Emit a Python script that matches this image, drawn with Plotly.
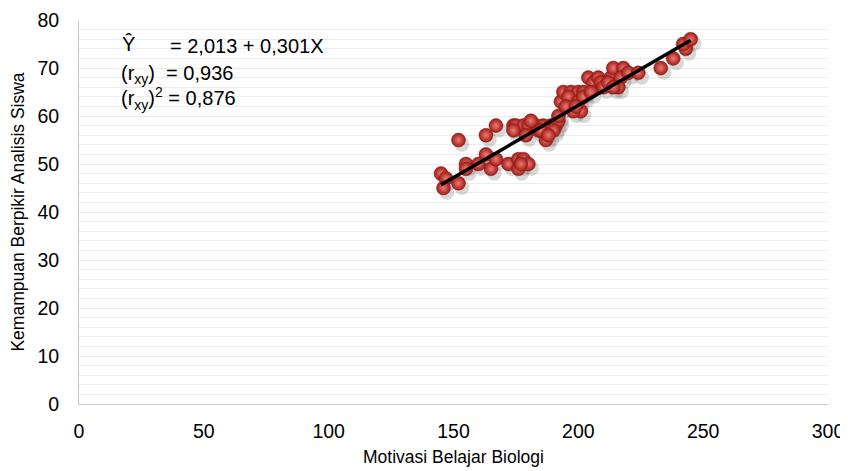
import plotly.graph_objects as go

# Data
motivasi = [145, 147, 146, 152, 152, 155, 155, 160, 163, 163, 165, 167, 167, 172, 174,
            176, 176, 178, 180, 175, 178, 180, 183, 186, 174, 179, 184, 187, 189, 191,
            192, 192, 193, 194, 197, 200, 202, 196, 200, 201, 202, 198, 204, 206, 208,
            209, 213, 214, 218, 217, 216, 220, 224, 233, 238, 243, 242, 245, 181, 185,
            190, 195, 205, 210, 212, 177, 188, 199, 214]
kemampuan = [48, 47, 45, 46, 55, 50, 49, 50, 52, 56, 49, 51, 58, 50, 58,
             51, 49, 51, 50, 58, 58, 58, 58, 58, 57, 56, 57, 55, 58, 58,
             59, 60, 63, 65, 65, 65, 65, 64, 63, 61, 64, 61, 68, 67, 68,
             67, 68, 70, 70, 68, 66, 69, 69, 70, 72, 74, 75, 76, 59, 57,
             57, 62, 65, 66, 67, 50, 56, 62, 66]

intercept = 2.013
slope = 0.301

x_ticks = [0, 50, 100, 150, 200, 250, 300]
y_ticks = [0, 10, 20, 30, 40, 50, 60, 70, 80]

xmin, xmax = min(motivasi), max(motivasi)
line_x = [xmin, xmax]
line_y = [intercept + slope * v for v in line_x]

font = "Liberation Sans, Arial, sans-serif"

fig = go.Figure()
# soft shadow
fig.add_trace(go.Scatter(
    x=[v + 1.3 for v in motivasi], y=[v - 0.9 for v in kemampuan], mode="markers",
    marker=dict(size=15, color="rgba(60,60,60,0.2)", line=dict(width=0)),
    hoverinfo="skip", showlegend=False))
fig.add_trace(go.Scatter(
    x=motivasi, y=kemampuan, mode="markers",
    marker=dict(size=14, color="#9c1d18",
                gradient=dict(type="radial", color="#ef7a70"),
                line=dict(width=0.5, color="#8e1712")),
    showlegend=False))
fig.add_trace(go.Scatter(
    x=line_x, y=line_y, mode="lines",
    line=dict(color="black", width=3.5), showlegend=False))

ann_font = dict(family=font, size=20, color="#000")
# plot area in page pixels: x 79..828, y 20..404
def px_x(p):
    return (p - 79) / 749
def px_y(p):
    return (404 - p) / 384

fig.add_annotation(x=px_x(120), y=px_y(44), xref="paper", yref="paper", text="Ŷ",
                   showarrow=False, xanchor="left", yanchor="middle", font=ann_font)
fig.add_annotation(x=px_x(168), y=px_y(46), xref="paper", yref="paper", text="= 2,013 + 0,301X",
                   showarrow=False, xanchor="left", yanchor="middle", font=ann_font)
fig.add_annotation(x=px_x(119), y=px_y(74), xref="paper", yref="paper",
                   text="(r<sub>xy</sub>)  = 0,936",
                   showarrow=False, xanchor="left", yanchor="middle", font=ann_font)
fig.add_annotation(x=px_x(119), y=px_y(98), xref="paper", yref="paper",
                   text="(r<sub>xy</sub>)<sup>2</sup> = 0,876",
                   showarrow=False, xanchor="left", yanchor="middle", font=ann_font)

# the page body has an 8px margin, so the figure is sized to the remaining area
fig.update_layout(
    width=840, height=463,
    margin=dict(l=71, r=20, t=12, b=67, autoexpand=False),
    paper_bgcolor="white", plot_bgcolor="white",
    font=dict(family=font, color="#000"),
    xaxis=dict(range=[0, 300], tickvals=x_ticks, showgrid=False, zeroline=False,
               automargin=False,
               showline=True, linecolor="#c8c8c8", linewidth=1,
               ticks="outside", ticklen=10, tickcolor="rgba(0,0,0,0)",
               tickfont=dict(size=19.5, family=font, color="#000"),
               title=dict(text="Motivasi Belajar Biologi", font=dict(size=17.5, family=font),
                          standoff=9)),
    yaxis=dict(range=[0, 80], tickvals=y_ticks, showgrid=True, gridcolor="#ececec",
               automargin=False,
               zeroline=False, showline=True, linecolor="#c8c8c8", linewidth=1,
               ticks="outside", ticklen=15, tickcolor="rgba(0,0,0,0)",
               minor=dict(dtick=2, showgrid=True, gridcolor="#ececec"),
               tickfont=dict(size=19.5, family=font, color="#000"),
               title=dict(text="Kemampuan Berpikir Analisis Siswa",
                          font=dict(size=17.5, family=font), standoff=8)),
)

fig.write_html("out.html")
